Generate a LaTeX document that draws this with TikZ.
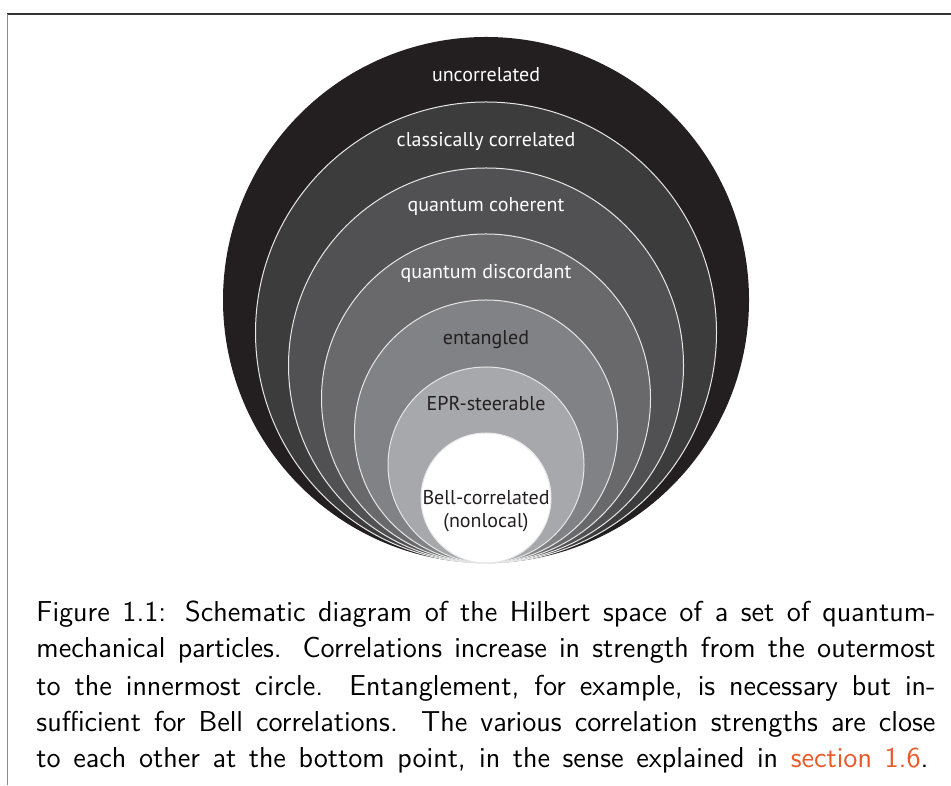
\documentclass[tikz,border=0pt]{standalone}
\usepackage{fontspec}
\newfontfamily\ringfont{PT Sans}

\definecolor{ringA}{HTML}{231F20}
\definecolor{ringB}{HTML}{3C3C3D}
\definecolor{ringC}{HTML}{515153}
\definecolor{ringD}{HTML}{69696B}
\definecolor{ringE}{HTML}{818285}
\definecolor{ringF}{HTML}{A7A8AB}
\definecolor{ringline}{HTML}{E6E6E6}
\definecolor{secorange}{RGB}{232,90,40}

\tikzset{
  ring/.style={draw=ringline, line width=0.4pt},
  lbl/.style={font=\ringfont\fontsize{8}{9.4}\selectfont, anchor=base, inner sep=0pt, align=center},
  capline/.style={font=\sffamily\fontsize{11.52}{14.6}\selectfont, anchor=base west, inner sep=0pt}
}

\begin{document}
\begin{tikzpicture}[x=0.4pt, y=0.4pt]
    \useasboundingbox (0,0) rectangle (951,785);

    % frame
    \draw[black!80, line width=0.6pt] (7,771) -- (951,771);
    \draw[black!45, line width=0.4pt] (7,771) -- (7,0);

    % nested circles, all touching at the bottom point
    \coordinate (bottom) at (486,222);
    \fill[ringA] (486,{222+263}) circle[radius=263];
    \foreach \r/\c in {230.5/ringB, 197.5/ringC, 164.5/ringD, 131.5/ringE, 98/ringF, 65/white}
        \filldraw[ring, fill=\c] (486,{222+\r}) circle[radius=\r];

    % labels
    \node (uncorr) [lbl, text=white] at (486,703.3) {uncorrelated};
    \node (classical) [lbl, text=white] at (486,638.5) {classically correlated};
    \node (coherent) [lbl, text=white] at (486,573) {quantum coherent};
    \node (discord) [lbl, text=white] at (486,506.5) {quantum discordant};
    \node (entangled) [lbl, text=ringA] at (486,440) {entangled};
    \node (steerable) [lbl, text=ringA] at (486,374) {EPR-steerable};
    \node (bell) [lbl, text=ringA] at (486,257) {Bell-correlated\\(nonlocal)};

    % caption
    \node (cap1) [capline] at (36,163) {\makebox[359.6pt][s]{Figure 1.1: Schematic diagram of the Hilbert space of a set of quantum-}};
    \node (cap2) [capline] at (36,127.3) {\makebox[359.6pt][s]{mechanical particles. Correlations increase in strength from the outermost}};
    \node (cap3) [capline] at (36,90) {\makebox[359.6pt][s]{to the innermost circle. Entanglement, for example, is necessary but in-}};
    \node (cap4) [capline] at (36,53.3) {\makebox[359.6pt][s]{sufficient for Bell correlations. The various correlation strengths are close}};
    \node (cap5) [capline] at (36,17) {\makebox[356.8pt][s]{to each other at the bottom point, in the sense explained in \textcolor{secorange}{section 1.6}.}};
\end{tikzpicture}
\end{document}
